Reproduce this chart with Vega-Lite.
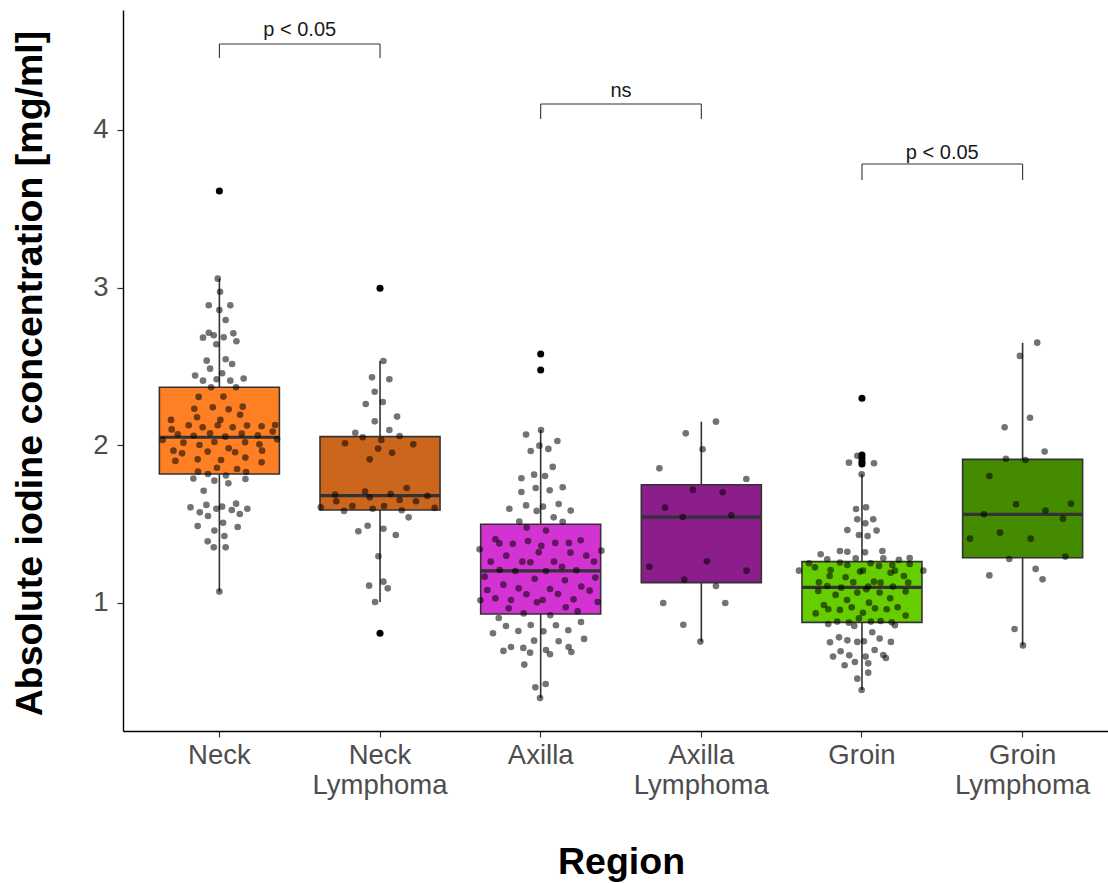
{
  "$schema": "https://vega.github.io/schema/vega-lite/v6.json",
  "width": 985,
  "height": 721,
  "autosize": {"type": "none"},
  "padding": {"left": 123, "top": 10, "right": 0, "bottom": 152},
  "background": "white",
  "config": {
    "view": {"stroke": null},
    "font": "Liberation Sans",
    "axis": {"grid": false, "labelFont": "Liberation Sans", "titleFont": "Liberation Sans"}
  },
  "datasets": {
    "stats": [
      {"region": "Neck", "lower": 1.072, "q1": 1.818, "median": 2.051, "q3": 2.368, "upper": 3.057},
      {"region": "Neck Lymphoma", "lower": 1.006, "q1": 1.590, "median": 1.681, "q3": 2.055, "upper": 2.535},
      {"region": "Axilla", "lower": 0.397, "q1": 0.930, "median": 1.203, "q3": 1.499, "upper": 2.097},
      {"region": "Axilla Lymphoma", "lower": 0.755, "q1": 1.129, "median": 1.545, "q3": 1.750, "upper": 2.150},
      {"region": "Groin", "lower": 0.448, "q1": 0.877, "median": 1.099, "q3": 1.262, "upper": 1.816},
      {"region": "Groin Lymphoma", "lower": 0.731, "q1": 1.287, "median": 1.562, "q3": 1.911, "upper": 2.651}
    ],
    "outliers": [
      {"region": "Neck", "value": 3.613},
      {"region": "Neck Lymphoma", "value": 2.996},
      {"region": "Neck Lymphoma", "value": 0.808},
      {"region": "Axilla", "value": 2.579},
      {"region": "Axilla", "value": 2.478},
      {"region": "Groin", "value": 2.298},
      {"region": "Groin", "value": 1.939},
      {"region": "Groin", "value": 1.918},
      {"region": "Groin", "value": 1.896},
      {"region": "Groin", "value": 1.882}
    ],
    "brackets": [
      {"group1": "Neck", "group2": "Neck Lymphoma", "y": 4.545, "tip": 4.457, "labelY": 4.634, "label": "p < 0.05"},
      {"group1": "Axilla", "group2": "Axilla Lymphoma", "y": 4.165, "tip": 4.070, "labelY": 4.245, "label": "ns"},
      {"group1": "Groin", "group2": "Groin Lymphoma", "y": 3.784, "tip": 3.683, "labelY": 3.854, "label": "p < 0.05"}
    ],
    "points": [
      {"region": "Neck", "jitter": -0.010, "value": 3.057},
      {"region": "Neck", "jitter": 0.004, "value": 2.974},
      {"region": "Neck", "jitter": -0.066, "value": 2.888},
      {"region": "Neck", "jitter": 0.068, "value": 2.888},
      {"region": "Neck", "jitter": 0.000, "value": 2.858},
      {"region": "Neck", "jitter": 0.039, "value": 2.795},
      {"region": "Neck", "jitter": -0.066, "value": 2.714},
      {"region": "Neck", "jitter": -0.102, "value": 2.683},
      {"region": "Neck", "jitter": -0.035, "value": 2.698},
      {"region": "Neck", "jitter": 0.027, "value": 2.685},
      {"region": "Neck", "jitter": 0.087, "value": 2.710},
      {"region": "Neck", "jitter": 0.106, "value": 2.660},
      {"region": "Neck", "jitter": -0.019, "value": 2.641},
      {"region": "Neck", "jitter": -0.079, "value": 2.537},
      {"region": "Neck", "jitter": 0.039, "value": 2.546},
      {"region": "Neck", "jitter": -0.058, "value": 2.486},
      {"region": "Neck", "jitter": 0.079, "value": 2.516},
      {"region": "Neck", "jitter": -0.151, "value": 2.442},
      {"region": "Neck", "jitter": -0.102, "value": 2.410},
      {"region": "Neck", "jitter": -0.017, "value": 2.419},
      {"region": "Neck", "jitter": 0.017, "value": 2.457},
      {"region": "Neck", "jitter": 0.068, "value": 2.410},
      {"region": "Neck", "jitter": 0.151, "value": 2.423},
      {"region": "Neck", "jitter": -0.052, "value": 2.368},
      {"region": "Neck", "jitter": 0.104, "value": 2.368},
      {"region": "Neck", "jitter": -0.129, "value": 2.307},
      {"region": "Neck", "jitter": 0.025, "value": 2.309},
      {"region": "Neck", "jitter": -0.156, "value": 2.232},
      {"region": "Neck", "jitter": -0.041, "value": 2.241},
      {"region": "Neck", "jitter": 0.145, "value": 2.245},
      {"region": "Neck", "jitter": 0.058, "value": 2.228},
      {"region": "Neck", "jitter": 0.129, "value": 2.194},
      {"region": "Neck", "jitter": -0.139, "value": 2.178},
      {"region": "Neck", "jitter": -0.301, "value": 2.161},
      {"region": "Neck", "jitter": 0.006, "value": 2.161},
      {"region": "Neck", "jitter": -0.191, "value": 2.127},
      {"region": "Neck", "jitter": -0.104, "value": 2.114},
      {"region": "Neck", "jitter": -0.010, "value": 2.127},
      {"region": "Neck", "jitter": 0.083, "value": 2.114},
      {"region": "Neck", "jitter": 0.172, "value": 2.125},
      {"region": "Neck", "jitter": 0.263, "value": 2.121},
      {"region": "Neck", "jitter": 0.347, "value": 2.129},
      {"region": "Neck", "jitter": -0.297, "value": 2.101},
      {"region": "Neck", "jitter": 0.332, "value": 2.087},
      {"region": "Neck", "jitter": -0.259, "value": 2.070},
      {"region": "Neck", "jitter": -0.160, "value": 2.061},
      {"region": "Neck", "jitter": -0.058, "value": 2.076},
      {"region": "Neck", "jitter": 0.037, "value": 2.055},
      {"region": "Neck", "jitter": 0.139, "value": 2.074},
      {"region": "Neck", "jitter": 0.239, "value": 2.063},
      {"region": "Neck", "jitter": -0.353, "value": 2.034},
      {"region": "Neck", "jitter": 0.359, "value": 2.038},
      {"region": "Neck", "jitter": -0.224, "value": 2.017},
      {"region": "Neck", "jitter": -0.124, "value": 2.002},
      {"region": "Neck", "jitter": -0.031, "value": 2.021},
      {"region": "Neck", "jitter": 0.160, "value": 2.019},
      {"region": "Neck", "jitter": 0.249, "value": 2.006},
      {"region": "Neck", "jitter": -0.286, "value": 1.966},
      {"region": "Neck", "jitter": -0.232, "value": 1.949},
      {"region": "Neck", "jitter": -0.073, "value": 1.960},
      {"region": "Neck", "jitter": 0.058, "value": 1.981},
      {"region": "Neck", "jitter": 0.098, "value": 1.956},
      {"region": "Neck", "jitter": 0.266, "value": 1.966},
      {"region": "Neck", "jitter": -0.274, "value": 1.901},
      {"region": "Neck", "jitter": -0.135, "value": 1.911},
      {"region": "Neck", "jitter": 0.010, "value": 1.907},
      {"region": "Neck", "jitter": 0.162, "value": 1.922},
      {"region": "Neck", "jitter": 0.263, "value": 1.892},
      {"region": "Neck", "jitter": -0.015, "value": 1.858},
      {"region": "Neck", "jitter": 0.110, "value": 1.850},
      {"region": "Neck", "jitter": -0.133, "value": 1.833},
      {"region": "Neck", "jitter": -0.071, "value": 1.818},
      {"region": "Neck", "jitter": 0.166, "value": 1.831},
      {"region": "Neck", "jitter": -0.162, "value": 1.789},
      {"region": "Neck", "jitter": -0.031, "value": 1.776},
      {"region": "Neck", "jitter": 0.041, "value": 1.808},
      {"region": "Neck", "jitter": 0.056, "value": 1.759},
      {"region": "Neck", "jitter": 0.162, "value": 1.786},
      {"region": "Neck", "jitter": -0.098, "value": 1.712},
      {"region": "Neck", "jitter": -0.180, "value": 1.607},
      {"region": "Neck", "jitter": -0.081, "value": 1.622},
      {"region": "Neck", "jitter": -0.122, "value": 1.575},
      {"region": "Neck", "jitter": -0.071, "value": 1.552},
      {"region": "Neck", "jitter": -0.019, "value": 1.598},
      {"region": "Neck", "jitter": 0.017, "value": 1.611},
      {"region": "Neck", "jitter": 0.104, "value": 1.630},
      {"region": "Neck", "jitter": 0.077, "value": 1.590},
      {"region": "Neck", "jitter": 0.127, "value": 1.564},
      {"region": "Neck", "jitter": 0.174, "value": 1.598},
      {"region": "Neck", "jitter": 0.023, "value": 1.509},
      {"region": "Neck", "jitter": -0.135, "value": 1.488},
      {"region": "Neck", "jitter": 0.114, "value": 1.482},
      {"region": "Neck", "jitter": -0.031, "value": 1.459},
      {"region": "Neck", "jitter": 0.031, "value": 1.425},
      {"region": "Neck", "jitter": -0.073, "value": 1.391},
      {"region": "Neck", "jitter": -0.035, "value": 1.353},
      {"region": "Neck", "jitter": 0.039, "value": 1.353},
      {"region": "Neck", "jitter": 0.000, "value": 1.072},
      {"region": "Neck Lymphoma", "jitter": 0.021, "value": 2.535},
      {"region": "Neck Lymphoma", "jitter": -0.050, "value": 2.431},
      {"region": "Neck Lymphoma", "jitter": 0.058, "value": 2.419},
      {"region": "Neck Lymphoma", "jitter": -0.033, "value": 2.340},
      {"region": "Neck Lymphoma", "jitter": -0.089, "value": 2.262},
      {"region": "Neck Lymphoma", "jitter": 0.017, "value": 2.275},
      {"region": "Neck Lymphoma", "jitter": 0.106, "value": 2.182},
      {"region": "Neck Lymphoma", "jitter": -0.033, "value": 2.152},
      {"region": "Neck Lymphoma", "jitter": 0.058, "value": 2.097},
      {"region": "Neck Lymphoma", "jitter": -0.154, "value": 2.080},
      {"region": "Neck Lymphoma", "jitter": -0.108, "value": 2.051},
      {"region": "Neck Lymphoma", "jitter": 0.008, "value": 2.034},
      {"region": "Neck Lymphoma", "jitter": 0.122, "value": 2.059},
      {"region": "Neck Lymphoma", "jitter": -0.218, "value": 2.013},
      {"region": "Neck Lymphoma", "jitter": 0.207, "value": 2.006},
      {"region": "Neck Lymphoma", "jitter": -0.012, "value": 1.979},
      {"region": "Neck Lymphoma", "jitter": 0.075, "value": 1.953},
      {"region": "Neck Lymphoma", "jitter": -0.064, "value": 1.911},
      {"region": "Neck Lymphoma", "jitter": 0.166, "value": 1.729},
      {"region": "Neck Lymphoma", "jitter": -0.093, "value": 1.706},
      {"region": "Neck Lymphoma", "jitter": -0.280, "value": 1.687},
      {"region": "Neck Lymphoma", "jitter": 0.066, "value": 1.691},
      {"region": "Neck Lymphoma", "jitter": 0.295, "value": 1.679},
      {"region": "Neck Lymphoma", "jitter": -0.064, "value": 1.670},
      {"region": "Neck Lymphoma", "jitter": -0.272, "value": 1.645},
      {"region": "Neck Lymphoma", "jitter": 0.122, "value": 1.653},
      {"region": "Neck Lymphoma", "jitter": 0.224, "value": 1.645},
      {"region": "Neck Lymphoma", "jitter": -0.369, "value": 1.607},
      {"region": "Neck Lymphoma", "jitter": -0.172, "value": 1.615},
      {"region": "Neck Lymphoma", "jitter": -0.046, "value": 1.598},
      {"region": "Neck Lymphoma", "jitter": 0.025, "value": 1.615},
      {"region": "Neck Lymphoma", "jitter": 0.340, "value": 1.603},
      {"region": "Neck Lymphoma", "jitter": -0.224, "value": 1.584},
      {"region": "Neck Lymphoma", "jitter": 0.135, "value": 1.588},
      {"region": "Neck Lymphoma", "jitter": 0.178, "value": 1.543},
      {"region": "Neck Lymphoma", "jitter": -0.135, "value": 1.455},
      {"region": "Neck Lymphoma", "jitter": -0.077, "value": 1.490},
      {"region": "Neck Lymphoma", "jitter": 0.021, "value": 1.471},
      {"region": "Neck Lymphoma", "jitter": 0.098, "value": 1.431},
      {"region": "Neck Lymphoma", "jitter": -0.010, "value": 1.296},
      {"region": "Neck Lymphoma", "jitter": -0.068, "value": 1.110},
      {"region": "Neck Lymphoma", "jitter": 0.021, "value": 1.135},
      {"region": "Neck Lymphoma", "jitter": 0.048, "value": 1.093},
      {"region": "Neck Lymphoma", "jitter": -0.031, "value": 1.006},
      {"region": "Axilla", "jitter": 0.002, "value": 2.097},
      {"region": "Axilla", "jitter": -0.091, "value": 2.068},
      {"region": "Axilla", "jitter": 0.104, "value": 2.027},
      {"region": "Axilla", "jitter": -0.008, "value": 1.998},
      {"region": "Axilla", "jitter": -0.062, "value": 1.964},
      {"region": "Axilla", "jitter": 0.048, "value": 1.977},
      {"region": "Axilla", "jitter": 0.075, "value": 1.863},
      {"region": "Axilla", "jitter": -0.120, "value": 1.791},
      {"region": "Axilla", "jitter": -0.041, "value": 1.814},
      {"region": "Axilla", "jitter": 0.027, "value": 1.805},
      {"region": "Axilla", "jitter": -0.120, "value": 1.704},
      {"region": "Axilla", "jitter": -0.031, "value": 1.729},
      {"region": "Axilla", "jitter": 0.056, "value": 1.715},
      {"region": "Axilla", "jitter": 0.137, "value": 1.734},
      {"region": "Axilla", "jitter": -0.195, "value": 1.598},
      {"region": "Axilla", "jitter": -0.091, "value": 1.619},
      {"region": "Axilla", "jitter": 0.014, "value": 1.611},
      {"region": "Axilla", "jitter": 0.112, "value": 1.628},
      {"region": "Axilla", "jitter": -0.025, "value": 1.584},
      {"region": "Axilla", "jitter": 0.187, "value": 1.586},
      {"region": "Axilla", "jitter": 0.081, "value": 1.543},
      {"region": "Axilla", "jitter": -0.133, "value": 1.516},
      {"region": "Axilla", "jitter": 0.137, "value": 1.514},
      {"region": "Axilla", "jitter": -0.087, "value": 1.478},
      {"region": "Axilla", "jitter": 0.033, "value": 1.459},
      {"region": "Axilla", "jitter": -0.282, "value": 1.404},
      {"region": "Axilla", "jitter": -0.257, "value": 1.378},
      {"region": "Axilla", "jitter": -0.174, "value": 1.376},
      {"region": "Axilla", "jitter": -0.079, "value": 1.393},
      {"region": "Axilla", "jitter": 0.091, "value": 1.381},
      {"region": "Axilla", "jitter": 0.176, "value": 1.381},
      {"region": "Axilla", "jitter": 0.249, "value": 1.398},
      {"region": "Axilla", "jitter": 0.004, "value": 1.362},
      {"region": "Axilla", "jitter": -0.380, "value": 1.340},
      {"region": "Axilla", "jitter": 0.378, "value": 1.332},
      {"region": "Axilla", "jitter": -0.012, "value": 1.321},
      {"region": "Axilla", "jitter": 0.185, "value": 1.319},
      {"region": "Axilla", "jitter": -0.214, "value": 1.300},
      {"region": "Axilla", "jitter": 0.284, "value": 1.300},
      {"region": "Axilla", "jitter": -0.311, "value": 1.262},
      {"region": "Axilla", "jitter": -0.114, "value": 1.262},
      {"region": "Axilla", "jitter": -0.064, "value": 1.258},
      {"region": "Axilla", "jitter": 0.083, "value": 1.262},
      {"region": "Axilla", "jitter": 0.332, "value": 1.262},
      {"region": "Axilla", "jitter": 0.133, "value": 1.230},
      {"region": "Axilla", "jitter": -0.255, "value": 1.209},
      {"region": "Axilla", "jitter": -0.158, "value": 1.203},
      {"region": "Axilla", "jitter": 0.033, "value": 1.203},
      {"region": "Axilla", "jitter": 0.222, "value": 1.207},
      {"region": "Axilla", "jitter": -0.349, "value": 1.167},
      {"region": "Axilla", "jitter": -0.037, "value": 1.154},
      {"region": "Axilla", "jitter": 0.340, "value": 1.161},
      {"region": "Axilla", "jitter": 0.151, "value": 1.144},
      {"region": "Axilla", "jitter": -0.232, "value": 1.116},
      {"region": "Axilla", "jitter": -0.137, "value": 1.093},
      {"region": "Axilla", "jitter": 0.253, "value": 1.104},
      {"region": "Axilla", "jitter": -0.332, "value": 1.082},
      {"region": "Axilla", "jitter": 0.058, "value": 1.089},
      {"region": "Axilla", "jitter": 0.305, "value": 1.078},
      {"region": "Axilla", "jitter": -0.089, "value": 1.055},
      {"region": "Axilla", "jitter": 0.108, "value": 1.057},
      {"region": "Axilla", "jitter": -0.282, "value": 1.030},
      {"region": "Axilla", "jitter": -0.185, "value": 1.019},
      {"region": "Axilla", "jitter": -0.023, "value": 1.004},
      {"region": "Axilla", "jitter": 0.012, "value": 1.019},
      {"region": "Axilla", "jitter": 0.205, "value": 1.023},
      {"region": "Axilla", "jitter": -0.375, "value": 1.017},
      {"region": "Axilla", "jitter": 0.355, "value": 1.006},
      {"region": "Axilla", "jitter": -0.199, "value": 0.966},
      {"region": "Axilla", "jitter": 0.156, "value": 0.973},
      {"region": "Axilla", "jitter": -0.106, "value": 0.934},
      {"region": "Axilla", "jitter": 0.060, "value": 0.922},
      {"region": "Axilla", "jitter": 0.230, "value": 0.947},
      {"region": "Axilla", "jitter": -0.261, "value": 0.905},
      {"region": "Axilla", "jitter": -0.216, "value": 0.854},
      {"region": "Axilla", "jitter": -0.062, "value": 0.860},
      {"region": "Axilla", "jitter": 0.095, "value": 0.859},
      {"region": "Axilla", "jitter": 0.251, "value": 0.879},
      {"region": "Axilla", "jitter": -0.297, "value": 0.808},
      {"region": "Axilla", "jitter": -0.139, "value": 0.822},
      {"region": "Axilla", "jitter": 0.017, "value": 0.820},
      {"region": "Axilla", "jitter": 0.172, "value": 0.827},
      {"region": "Axilla", "jitter": -0.041, "value": 0.761},
      {"region": "Axilla", "jitter": 0.112, "value": 0.757},
      {"region": "Axilla", "jitter": 0.270, "value": 0.772},
      {"region": "Axilla", "jitter": -0.232, "value": 0.696},
      {"region": "Axilla", "jitter": -0.185, "value": 0.721},
      {"region": "Axilla", "jitter": -0.108, "value": 0.715},
      {"region": "Axilla", "jitter": -0.066, "value": 0.685},
      {"region": "Axilla", "jitter": 0.033, "value": 0.702},
      {"region": "Axilla", "jitter": 0.058, "value": 0.675},
      {"region": "Axilla", "jitter": 0.174, "value": 0.721},
      {"region": "Axilla", "jitter": 0.191, "value": 0.689},
      {"region": "Axilla", "jitter": -0.102, "value": 0.609},
      {"region": "Axilla", "jitter": -0.033, "value": 0.465},
      {"region": "Axilla", "jitter": 0.031, "value": 0.486},
      {"region": "Axilla", "jitter": -0.004, "value": 0.397},
      {"region": "Axilla Lymphoma", "jitter": 0.091, "value": 2.150},
      {"region": "Axilla Lymphoma", "jitter": -0.097, "value": 2.076},
      {"region": "Axilla Lymphoma", "jitter": 0.008, "value": 1.975},
      {"region": "Axilla Lymphoma", "jitter": -0.261, "value": 1.854},
      {"region": "Axilla Lymphoma", "jitter": 0.280, "value": 1.786},
      {"region": "Axilla Lymphoma", "jitter": -0.052, "value": 1.717},
      {"region": "Axilla Lymphoma", "jitter": 0.133, "value": 1.702},
      {"region": "Axilla Lymphoma", "jitter": -0.226, "value": 1.605},
      {"region": "Axilla Lymphoma", "jitter": -0.116, "value": 1.545},
      {"region": "Axilla Lymphoma", "jitter": 0.187, "value": 1.556},
      {"region": "Axilla Lymphoma", "jitter": -0.324, "value": 1.230},
      {"region": "Axilla Lymphoma", "jitter": 0.035, "value": 1.264},
      {"region": "Axilla Lymphoma", "jitter": 0.282, "value": 1.205},
      {"region": "Axilla Lymphoma", "jitter": -0.106, "value": 1.148},
      {"region": "Axilla Lymphoma", "jitter": 0.091, "value": 1.108},
      {"region": "Axilla Lymphoma", "jitter": -0.237, "value": 1.000},
      {"region": "Axilla Lymphoma", "jitter": 0.149, "value": 1.000},
      {"region": "Axilla Lymphoma", "jitter": -0.112, "value": 0.862},
      {"region": "Axilla Lymphoma", "jitter": -0.006, "value": 0.755},
      {"region": "Groin", "jitter": -0.029, "value": 1.934},
      {"region": "Groin", "jitter": -0.081, "value": 1.890},
      {"region": "Groin", "jitter": 0.075, "value": 1.886},
      {"region": "Groin", "jitter": -0.002, "value": 1.816},
      {"region": "Groin", "jitter": -0.037, "value": 1.596},
      {"region": "Groin", "jitter": 0.025, "value": 1.607},
      {"region": "Groin", "jitter": -0.029, "value": 1.531},
      {"region": "Groin", "jitter": 0.021, "value": 1.505},
      {"region": "Groin", "jitter": 0.070, "value": 1.531},
      {"region": "Groin", "jitter": -0.091, "value": 1.463},
      {"region": "Groin", "jitter": 0.091, "value": 1.459},
      {"region": "Groin", "jitter": -0.019, "value": 1.431},
      {"region": "Groin", "jitter": 0.035, "value": 1.425},
      {"region": "Groin", "jitter": -0.257, "value": 1.309},
      {"region": "Groin", "jitter": -0.137, "value": 1.330},
      {"region": "Groin", "jitter": -0.091, "value": 1.325},
      {"region": "Groin", "jitter": 0.019, "value": 1.321},
      {"region": "Groin", "jitter": 0.127, "value": 1.330},
      {"region": "Groin", "jitter": -0.216, "value": 1.277},
      {"region": "Groin", "jitter": -0.039, "value": 1.283},
      {"region": "Groin", "jitter": 0.133, "value": 1.283},
      {"region": "Groin", "jitter": 0.230, "value": 1.273},
      {"region": "Groin", "jitter": 0.297, "value": 1.285},
      {"region": "Groin", "jitter": -0.330, "value": 1.252},
      {"region": "Groin", "jitter": -0.137, "value": 1.256},
      {"region": "Groin", "jitter": -0.091, "value": 1.241},
      {"region": "Groin", "jitter": 0.054, "value": 1.252},
      {"region": "Groin", "jitter": 0.106, "value": 1.235},
      {"region": "Groin", "jitter": 0.189, "value": 1.241},
      {"region": "Groin", "jitter": 0.297, "value": 1.247},
      {"region": "Groin", "jitter": -0.392, "value": 1.205},
      {"region": "Groin", "jitter": -0.293, "value": 1.226},
      {"region": "Groin", "jitter": -0.195, "value": 1.209},
      {"region": "Groin", "jitter": -0.012, "value": 1.199},
      {"region": "Groin", "jitter": 0.006, "value": 1.205},
      {"region": "Groin", "jitter": 0.178, "value": 1.192},
      {"region": "Groin", "jitter": 0.205, "value": 1.205},
      {"region": "Groin", "jitter": 0.382, "value": 1.205},
      {"region": "Groin", "jitter": -0.201, "value": 1.171},
      {"region": "Groin", "jitter": -0.102, "value": 1.163},
      {"region": "Groin", "jitter": 0.261, "value": 1.171},
      {"region": "Groin", "jitter": -0.268, "value": 1.131},
      {"region": "Groin", "jitter": -0.054, "value": 1.131},
      {"region": "Groin", "jitter": 0.075, "value": 1.135},
      {"region": "Groin", "jitter": 0.116, "value": 1.129},
      {"region": "Groin", "jitter": 0.288, "value": 1.129},
      {"region": "Groin", "jitter": -0.216, "value": 1.108},
      {"region": "Groin", "jitter": -0.129, "value": 1.097},
      {"region": "Groin", "jitter": 0.039, "value": 1.104},
      {"region": "Groin", "jitter": 0.193, "value": 1.104},
      {"region": "Groin", "jitter": -0.272, "value": 1.076},
      {"region": "Groin", "jitter": -0.164, "value": 1.051},
      {"region": "Groin", "jitter": -0.029, "value": 1.066},
      {"region": "Groin", "jitter": 0.027, "value": 1.087},
      {"region": "Groin", "jitter": 0.110, "value": 1.066},
      {"region": "Groin", "jitter": 0.272, "value": 1.072},
      {"region": "Groin", "jitter": 0.176, "value": 1.030},
      {"region": "Groin", "jitter": -0.093, "value": 1.019},
      {"region": "Groin", "jitter": 0.044, "value": 1.002},
      {"region": "Groin", "jitter": -0.237, "value": 0.987},
      {"region": "Groin", "jitter": -0.210, "value": 0.960},
      {"region": "Groin", "jitter": -0.137, "value": 0.956},
      {"region": "Groin", "jitter": -0.064, "value": 0.973},
      {"region": "Groin", "jitter": 0.081, "value": 0.966},
      {"region": "Groin", "jitter": 0.154, "value": 0.960},
      {"region": "Groin", "jitter": 0.222, "value": 0.973},
      {"region": "Groin", "jitter": -0.288, "value": 0.934},
      {"region": "Groin", "jitter": 0.006, "value": 0.938},
      {"region": "Groin", "jitter": 0.272, "value": 0.920},
      {"region": "Groin", "jitter": -0.019, "value": 0.903},
      {"region": "Groin", "jitter": -0.154, "value": 0.882},
      {"region": "Groin", "jitter": -0.210, "value": 0.867},
      {"region": "Groin", "jitter": -0.081, "value": 0.875},
      {"region": "Groin", "jitter": -0.048, "value": 0.854},
      {"region": "Groin", "jitter": 0.056, "value": 0.882},
      {"region": "Groin", "jitter": 0.116, "value": 0.886},
      {"region": "Groin", "jitter": 0.185, "value": 0.877},
      {"region": "Groin", "jitter": 0.205, "value": 0.859},
      {"region": "Groin", "jitter": 0.064, "value": 0.814},
      {"region": "Groin", "jitter": -0.199, "value": 0.751},
      {"region": "Groin", "jitter": -0.143, "value": 0.782},
      {"region": "Groin", "jitter": -0.091, "value": 0.763},
      {"region": "Groin", "jitter": -0.029, "value": 0.753},
      {"region": "Groin", "jitter": 0.012, "value": 0.757},
      {"region": "Groin", "jitter": 0.110, "value": 0.774},
      {"region": "Groin", "jitter": 0.180, "value": 0.753},
      {"region": "Groin", "jitter": -0.180, "value": 0.660},
      {"region": "Groin", "jitter": -0.133, "value": 0.694},
      {"region": "Groin", "jitter": -0.079, "value": 0.668},
      {"region": "Groin", "jitter": 0.023, "value": 0.660},
      {"region": "Groin", "jitter": 0.079, "value": 0.702},
      {"region": "Groin", "jitter": 0.133, "value": 0.670},
      {"region": "Groin", "jitter": 0.149, "value": 0.651},
      {"region": "Groin", "jitter": -0.108, "value": 0.605},
      {"region": "Groin", "jitter": -0.044, "value": 0.626},
      {"region": "Groin", "jitter": 0.039, "value": 0.617},
      {"region": "Groin", "jitter": -0.029, "value": 0.520},
      {"region": "Groin", "jitter": 0.039, "value": 0.558},
      {"region": "Groin", "jitter": -0.002, "value": 0.448},
      {"region": "Groin Lymphoma", "jitter": 0.091, "value": 2.651},
      {"region": "Groin Lymphoma", "jitter": -0.017, "value": 2.567},
      {"region": "Groin Lymphoma", "jitter": 0.046, "value": 2.175},
      {"region": "Groin Lymphoma", "jitter": -0.112, "value": 2.114},
      {"region": "Groin Lymphoma", "jitter": 0.137, "value": 1.960},
      {"region": "Groin Lymphoma", "jitter": -0.104, "value": 1.915},
      {"region": "Groin Lymphoma", "jitter": 0.017, "value": 1.907},
      {"region": "Groin Lymphoma", "jitter": -0.207, "value": 1.805},
      {"region": "Groin Lymphoma", "jitter": -0.041, "value": 1.626},
      {"region": "Groin Lymphoma", "jitter": 0.301, "value": 1.630},
      {"region": "Groin Lymphoma", "jitter": 0.143, "value": 1.586},
      {"region": "Groin Lymphoma", "jitter": -0.241, "value": 1.562},
      {"region": "Groin Lymphoma", "jitter": 0.251, "value": 1.535},
      {"region": "Groin Lymphoma", "jitter": -0.141, "value": 1.446},
      {"region": "Groin Lymphoma", "jitter": -0.328, "value": 1.408},
      {"region": "Groin Lymphoma", "jitter": 0.050, "value": 1.408},
      {"region": "Groin Lymphoma", "jitter": -0.083, "value": 1.279},
      {"region": "Groin Lymphoma", "jitter": 0.266, "value": 1.294},
      {"region": "Groin Lymphoma", "jitter": -0.207, "value": 1.175},
      {"region": "Groin Lymphoma", "jitter": 0.081, "value": 1.216},
      {"region": "Groin Lymphoma", "jitter": 0.124, "value": 1.150},
      {"region": "Groin Lymphoma", "jitter": -0.050, "value": 0.835},
      {"region": "Groin Lymphoma", "jitter": 0.002, "value": 0.731}
    ]
  },
  "layer": [
    {
      "data": {"name": "stats"},
      "mark": {"type": "rule", "color": "#333333", "strokeWidth": 1.6},
      "encoding": {
        "x": {
          "field": "region",
          "type": "nominal",
          "sort": null,
          "scale": {
            "type": "band",
            "domain": ["Neck", "Neck Lymphoma", "Axilla", "Axilla Lymphoma", "Groin", "Groin Lymphoma"],
            "range": [0, 996],
            "paddingInner": 0,
            "paddingOuter": 0.1
          },
          "axis": {
            "title": "Region",
            "labelExpr": "split(datum.label, ' ')",
            "labelAngle": 0,
            "labelFontSize": 27.5,
            "labelColor": "#4D4D4D",
            "labelLineHeight": 30,
            "labelPadding": 4,
            "tickSize": 6,
            "tickWidth": 1.2,
            "tickColor": "#333333",
            "domainColor": "#000000",
            "domainWidth": 1.4,
            "titleFontSize": 37.5,
            "titleFontWeight": "bold",
            "titleColor": "#000000",
            "titleX": 498,
            "titleY": 131,
            "titleAlign": "center",
            "titleBaseline": "middle"
          }
        },
        "y": {
          "field": "lower",
          "type": "quantitative",
          "scale": {"domain": [0.188, 4.761], "nice": false, "zero": false},
          "axis": {
            "title": "Absolute iodine concentration [mg/ml]",
            "values": [1, 2, 3, 4],
            "format": "d",
            "labelFontSize": 27.5,
            "labelColor": "#4D4D4D",
            "labelPadding": 9,
            "tickSize": 6,
            "tickWidth": 1.2,
            "tickColor": "#333333",
            "domainColor": "#000000",
            "domainWidth": 1.4,
            "titleFontSize": 37.5,
            "titleFontWeight": "bold",
            "titleColor": "#000000",
            "titleAngle": -90,
            "titleX": -93,
            "titleY": 363,
            "titleAlign": "center",
            "titleBaseline": "middle"
          }
        },
        "y2": {"field": "upper"}
      }
    },
    {
      "data": {"name": "stats"},
      "mark": {"type": "bar", "width": 120, "stroke": "#333333", "strokeWidth": 1.6},
      "encoding": {
        "x": {"field": "region", "type": "nominal", "sort": null},
        "y": {"field": "q1", "type": "quantitative"},
        "y2": {"field": "q3"},
        "fill": {
          "field": "region",
          "type": "nominal",
          "scale": {
            "domain": ["Neck", "Neck Lymphoma", "Axilla", "Axilla Lymphoma", "Groin", "Groin Lymphoma"],
            "range": ["#FF7F24", "#CD661D", "#D433D4", "#8B1E8B", "#66CD00", "#458B00"]
          },
          "legend": null
        }
      }
    },
    {
      "data": {"name": "stats"},
      "mark": {"type": "bar", "width": 120, "fill": null, "stroke": "#333333", "strokeWidth": 3.2},
      "encoding": {
        "x": {"field": "region", "type": "nominal", "sort": null},
        "y": {"field": "median", "type": "quantitative"},
        "y2": {"field": "median"}
      }
    },
    {
      "data": {"name": "outliers"},
      "mark": {"type": "circle", "color": "#000000", "opacity": 1, "size": 50},
      "encoding": {
        "x": {"field": "region", "type": "nominal", "sort": null},
        "y": {"field": "value", "type": "quantitative"}
      }
    },
    {
      "data": {"name": "points"},
      "mark": {"type": "circle", "color": "#000000", "opacity": 0.55, "size": 44},
      "encoding": {
        "x": {"field": "region", "type": "nominal", "sort": null},
        "xOffset": {"field": "jitter", "type": "quantitative", "scale": {"domain": [-0.5, 0.5]}},
        "y": {"field": "value", "type": "quantitative"}
      }
    },
    {
      "data": {"name": "brackets"},
      "mark": {"type": "rule", "color": "#333333", "strokeWidth": 1.1},
      "encoding": {
        "x": {"field": "group1", "type": "nominal", "sort": null},
        "x2": {"field": "group2"},
        "y": {"field": "y", "type": "quantitative"}
      }
    },
    {
      "data": {"name": "brackets"},
      "mark": {"type": "rule", "color": "#333333", "strokeWidth": 1.1},
      "encoding": {
        "x": {"field": "group1", "type": "nominal", "sort": null},
        "y": {"field": "tip", "type": "quantitative"},
        "y2": {"field": "y"}
      }
    },
    {
      "data": {"name": "brackets"},
      "mark": {"type": "rule", "color": "#333333", "strokeWidth": 1.1},
      "encoding": {
        "x": {"field": "group2", "type": "nominal", "sort": null},
        "y": {"field": "tip", "type": "quantitative"},
        "y2": {"field": "y"}
      }
    },
    {
      "data": {"name": "brackets"},
      "mark": {"type": "text", "fontSize": 20, "color": "#1A1A1A", "align": "center", "baseline": "middle", "font": "Liberation Sans"},
      "encoding": {
        "x": {"field": "group1", "type": "nominal", "sort": null, "bandPosition": 1},
        "y": {"field": "labelY", "type": "quantitative"},
        "text": {"field": "label"}
      }
    }
  ]
}
